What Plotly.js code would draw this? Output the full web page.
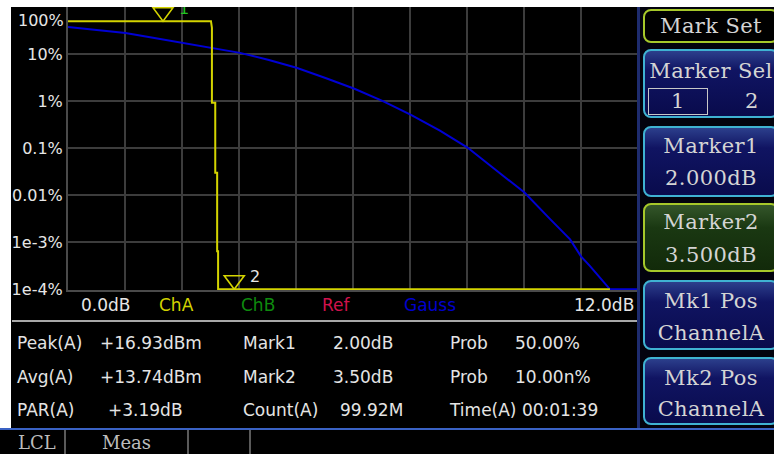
<!DOCTYPE html>
<html>
<head>
<meta charset="utf-8">
<script src="https://cdn.plot.ly/plotly-3.0.1.min.js"></script>
<style>
html,body{margin:0;padding:0;width:774px;height:454px;overflow:hidden;background:#fff;}
#screen{position:absolute;left:11px;top:7px;width:763px;height:447px;background:#000;}
#bottombar{position:absolute;left:0;top:428px;width:774px;height:26px;background:#000;border-top:2px solid #3a62c4;box-sizing:border-box;}
#chart{position:absolute;left:0;top:0;width:774px;height:454px;}
#topstrip{position:absolute;left:0;top:0;width:774px;height:7px;background:#fff;z-index:5;}
#leftstrip{position:absolute;left:0;top:0;width:11px;height:428px;background:#fff;z-index:5;}
.stat{position:absolute;font-family:'DejaVu Sans',sans-serif;font-size:17px;line-height:20px;color:#e4e4e4;white-space:pre;z-index:6;}
#sep{position:absolute;left:12px;top:320px;width:626px;height:2px;background:#a8a8a8;z-index:6;}
#panel{position:absolute;left:637px;top:7px;width:137px;height:421px;background:#03030e;z-index:6;}
#panelline{position:absolute;left:637px;top:7px;width:3px;height:421px;background:#1e2c6e;z-index:7;}
.btn{position:absolute;left:643px;width:136px;box-sizing:border-box;border-radius:8px;border:2px solid #3fb2d2;
  background:linear-gradient(#2c3f8c 0%,#101462 30%,#090b4c 100%);z-index:8;}
.btn.yel{border-color:#a6c82a;}
.btn.black{background:#000;}
.btn.green{background:linear-gradient(#34562a 0%,#1a3812 35%,#122a0a 100%);}
.bt{position:absolute;left:0;width:132px;text-align:center;font-family:'DejaVu Serif',serif;font-size:21px;line-height:24px;letter-spacing:0.4px;color:#d4d4d4;white-space:pre;}
#selbox{position:absolute;left:3px;top:37px;width:60px;height:27px;box-sizing:border-box;border:1.5px solid #c8c8c8;}
.bb{position:absolute;top:434px;font-family:'DejaVu Serif',serif;font-size:18px;line-height:18px;color:#bcbcbc;z-index:9;}
.vsep{position:absolute;top:430px;width:2px;height:24px;background:#5a5a5a;z-index:9;}
</style>
</head>
<body>
<div id="screen"></div>
<div id="bottombar"></div>
<div id="chart"></div>
<div id="topstrip"></div>
<div id="leftstrip"></div>
<div id="sep"></div>
<div id="stats"></div>
<div id="panel"></div>
<div id="panelline"></div>

<div class="btn yel black" style="top:9px;height:34px;"><div class="bt" style="top:3px;">Mark Set</div></div>
<div class="btn" style="top:49px;height:69px;">
  <div class="bt" style="top:8px;">Marker Sel</div>
  <div id="selbox"></div>
  <div class="bt" style="top:38px;left:3px;width:60px;">1</div>
  <div class="bt" style="top:38px;left:92px;width:30px;">2</div>
</div>
<div class="btn" style="top:126px;height:71px;">
  <div class="bt" style="top:6px;">Marker1</div>
  <div class="bt" style="top:38px;">2.000dB</div>
</div>
<div class="btn yel green" style="top:203px;height:69px;">
  <div class="bt" style="top:5px;">Marker2</div>
  <div class="bt" style="top:38px;">3.500dB</div>
</div>
<div class="btn" style="top:280px;height:70px;">
  <div class="bt" style="top:7px;">Mk1 Pos</div>
  <div class="bt" style="top:39px;">ChannelA</div>
</div>
<div class="btn" style="top:357px;height:68px;">
  <div class="bt" style="top:7px;">Mk2 Pos</div>
  <div class="bt" style="top:38px;">ChannelA</div>
</div>

<div class="vsep" style="left:64px;"></div>
<div class="vsep" style="left:187px;"></div>
<div class="vsep" style="left:249px;"></div>
<div class="bb" style="left:18px;">LCL</div>
<div class="bb" style="left:102px;">Meas</div>

<script>
// ---- data ----
const gaussDb   = [0, 0.59, 1.21, 1.82, 2.43, 3.01, 3.62, 4.23, 4.81, 5.42, 6.03, 6.63, 7.22, 7.83, 8.41, 9.08, 9.61, 10.15, 10.57, 10.80, 10.99, 11.41, 12.0];
const gaussProb = [37.7, 32.5, 28.1, 22.0, 17.3, 13.5, 10.6, 7.5, 5.1, 3.1, 1.83, 1.0, 0.51, 0.235, 0.103, 0.030, 0.0114, 0.0031, 0.00115, 0.0005, 0.00031, 0.0001, 0.0001];
const chaDb     = [0, 3.01, 3.03, 3.03, 3.10, 3.10, 3.14, 3.14, 3.16, 3.16, 11.41];
const chaProb   = [50, 50, 36, 0.92, 0.92, 0.030, 0.030, 0.00064, 0.00064, 0.0001, 0.0001];
const markerDb   = [2.00, 3.50];
const markerProb = [50.00, 10.00e-9];
const markerLabels = ['1', '2'];
const yTickVals = [1e-4, 1e-3, 1e-2, 0.1, 1, 10];
const yTickText = ['1e-4%', '1e-3%', '0.01%', '0.1%', '1%', '10%'];
const topTickText = '100%';
const legendLabels = ['ChA', 'ChB', 'Ref', 'Gauss'];
const xStartLabel = '0.0dB', xEndLabel = '12.0dB';
const statRows = [
  ['Peak(A)', '+16.93dBm', 'Mark1', '2.00dB', 'Prob', '50.00%'],
  ['Avg(A)', '+13.74dBm', 'Mark2', '3.50dB', 'Prob', '10.00n%'],
  ['PAR(A)', '+3.19dB', 'Count(A)', '99.92M', 'Time(A) 00:01:39', '']
];

// ---- styling / geometry ----
const W = 774, H = 454;
const L = 68, R = 638, T = 7, B = 290;
const pw = R - L, ph = B - T;
const px2x = p => (p - L) / pw;
const py2y = p => (B - p) / ph;
const yMinLog = -4, yMaxLog = 2;
const legendColors = ['#d2d200', '#0e8a0e', '#d0124c', '#0000cc'];
const legendLeft = [157, 239, 320, 402];
const white = '#e6e6e6';

const traces = [
  {x: gaussDb, y: gaussProb, type: 'scatter', mode: 'lines', line: {color: '#0000d4', width: 2}, hoverinfo: 'skip'},
  {x: chaDb, y: chaProb, type: 'scatter', mode: 'lines', line: {color: '#d4d400', width: 2}, hoverinfo: 'skip'}
];

const shapes = [];
const annotations = [];
const floorProb = Math.pow(10, yMinLog);
markerDb.forEach((d, i) => {
  const p = Math.max(markerProb[i], floorProb);
  shapes.push({type: 'path', xref: 'x', yref: 'y', xsizemode: 'pixel', ysizemode: 'pixel',
    xanchor: d, yanchor: p, path: 'M-10,13.5 L10,13.5 L0,0 Z',
    line: {color: '#d4d400', width: 1.6}, fillcolor: 'rgba(0,0,0,0)', layer: 'above'});
  annotations.push({x: d, y: Math.log10(p), xref: 'x', yref: 'y', text: markerLabels[i], showarrow: false,
    xshift: 21, yshift: 13, font: {family: 'DejaVu Sans', size: 16, color: i === 0 ? '#22c422' : white}});
});

annotations.push({xref: 'paper', yref: 'paper', x: px2x(66), y: py2y(20), xanchor: 'right', yanchor: 'middle',
  text: topTickText, showarrow: false, font: {family: 'DejaVu Sans', size: 16, color: white}});
annotations.push({xref: 'paper', yref: 'paper', x: px2x(79), y: py2y(305), xanchor: 'left', yanchor: 'middle',
  text: xStartLabel, showarrow: false, font: {family: 'DejaVu Sans', size: 17, color: white}});
annotations.push({xref: 'paper', yref: 'paper', x: px2x(636), y: py2y(305), xanchor: 'right', yanchor: 'middle',
  text: xEndLabel, showarrow: false, font: {family: 'DejaVu Sans', size: 17, color: white}});
legendLabels.forEach((t, i) => {
  annotations.push({xref: 'paper', yref: 'paper', x: px2x(legendLeft[i]), y: py2y(305), xanchor: 'left', yanchor: 'middle',
    text: t, showarrow: false, font: {family: 'DejaVu Sans', size: 17, color: legendColors[i]}});
});

const layout = {
  width: W, height: H,
  margin: {l: L, r: W - R, t: T, b: H - B, pad: 0},
  paper_bgcolor: 'rgba(0,0,0,0)', plot_bgcolor: '#000',
  showlegend: false,
  xaxis: {range: [0, 12], tick0: 0, dtick: 1.2, showgrid: true, gridcolor: '#3c3c3c', gridwidth: 2,
    showticklabels: false, ticks: '', zeroline: false, showline: true, mirror: true, linecolor: '#4a4a4a', linewidth: 2, fixedrange: true},
  yaxis: {type: 'log', range: [yMinLog - 0.015, yMaxLog], tickmode: 'array', tickvals: yTickVals, ticktext: yTickText,
    showgrid: true, gridcolor: '#3c3c3c', gridwidth: 2, ticks: '', zeroline: false, showline: true, mirror: true,
    linecolor: '#4a4a4a', linewidth: 2, tickfont: {family: 'DejaVu Sans', size: 16, color: white}, fixedrange: true},
  shapes: shapes,
  annotations: annotations
};

Plotly.newPlot('chart', traces, layout, {displayModeBar: false, staticPlot: true});

// ---- stats table ----
const colX = [17, 100, 243, 333, 450, 515];
const colXRow3 = [17, 108, 243, 340, 450, 515];
const rowY = [343, 377, 410];
const st = document.getElementById('stats');
statRows.forEach((row, r) => {
  row.forEach((txt, c) => {
    if (!txt) return;
    const s = document.createElement('div');
    s.className = 'stat';
    s.style.left = (r === 2 ? colXRow3[c] : colX[c]) + 'px';
    s.style.top = (rowY[r] - 10) + 'px';
    s.textContent = txt;
    st.appendChild(s);
  });
});
</script>
</body>
</html>
